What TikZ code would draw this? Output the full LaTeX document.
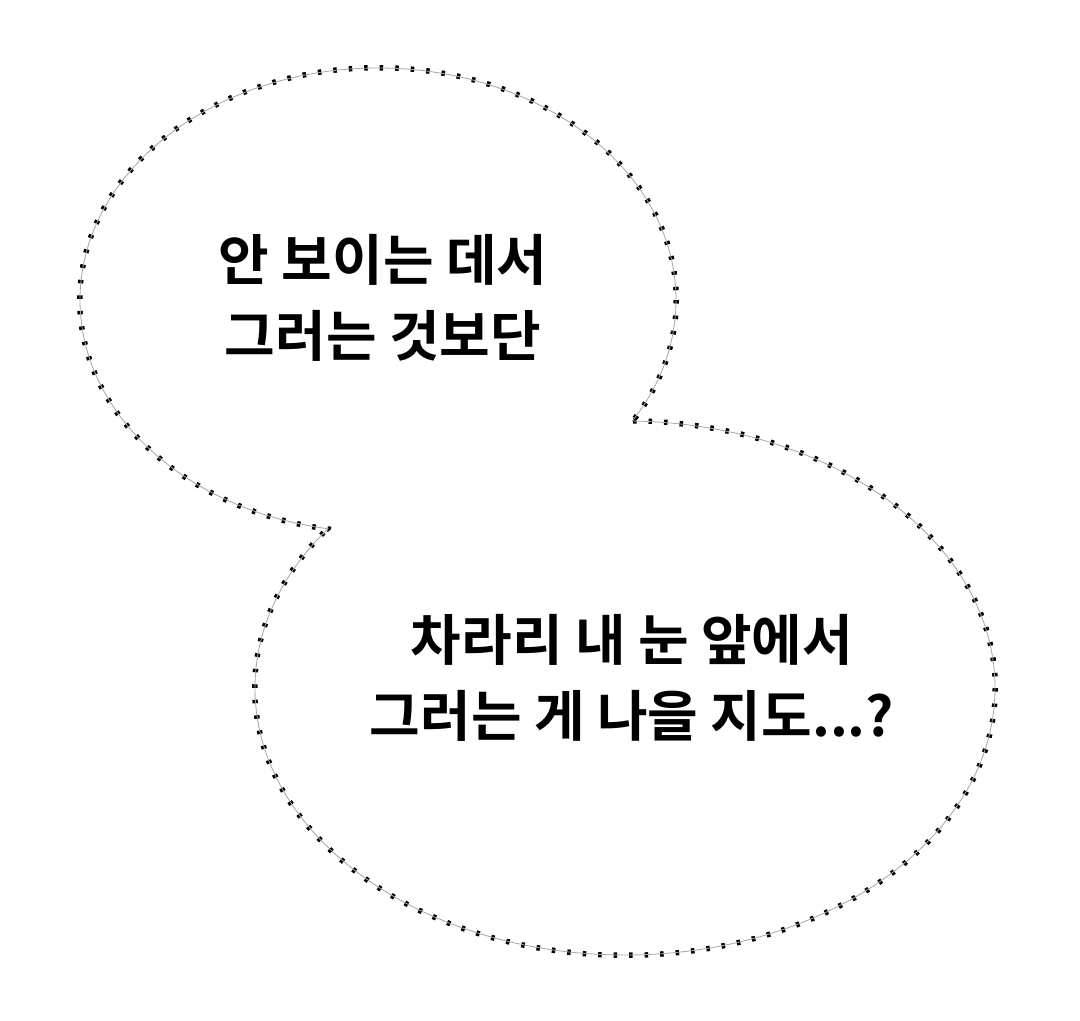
\documentclass[tikz,border=0pt]{standalone}
\usepackage{fontspec}
\newfontfamily\kr{Noto Sans CJK KR}[BoldFont={* Bold}]
\begin{document}
\begin{tikzpicture}[x=1pt,y=-1pt,
  outline/.style={draw=gray!70,line width=0.8pt},
  dots/.style={draw=black,line width=6pt,dash pattern=on 3.5pt off 12pt},
  txt/.style={font=\kr\bfseries\fontsize{55}{76}\selectfont,align=center}]
\useasboundingbox[fill=white] (0,0) rectangle (1080,1021);
\coordinate (c1) at (378,300);
\coordinate (c2) at (625,688);
\draw[dots] (c1) ellipse [x radius=298,y radius=232];
\draw[dots] (c2) ellipse [x radius=370,y radius=267];
\fill[white] (c1) ellipse [x radius=295.5,y radius=229.5];
\fill[white] (c2) ellipse [x radius=367.5,y radius=264.5];
\begin{scope}[even odd rule]
\clip (0,0) rectangle (1080,1021) (c2) ellipse [x radius=370,y radius=267];
\draw[outline] (c1) ellipse [x radius=298,y radius=232];
\end{scope}
\begin{scope}[even odd rule]
\clip (0,0) rectangle (1080,1021) (c1) ellipse [x radius=298,y radius=232];
\draw[outline] (c2) ellipse [x radius=370,y radius=267];
\end{scope}
\fill[white] (0,0) rectangle (1080,30);
\node[txt] (t1) at (383,298) {안 보이는 데서\\그러는 것보단};
\node[txt] (t2) at (632,678) {차라리 내 눈 앞에서\\그러는 게 나을 지도...?};
\end{tikzpicture}
\end{document}
